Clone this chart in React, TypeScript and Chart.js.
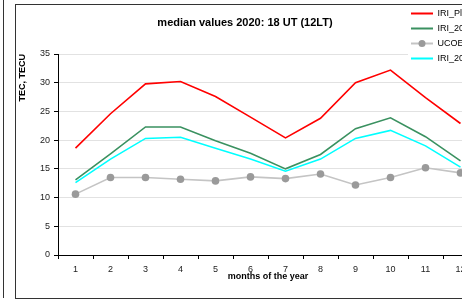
import React, { useEffect, useRef } from "react";
import { Chart, registerables } from "chart.js";

Chart.register(...registerables);

const months = ["1", "2", "3", "4", "5", "6", "7", "8", "9", "10", "11", "12"];
const iriPlas = [18.6, 24.6, 29.8, 30.2, 27.6, 24.0, 20.4, 23.8, 30.0, 32.2, 27.4, 22.9];
const iri2016 = [13.1, 17.6, 22.3, 22.3, 19.9, 17.7, 15.0, 17.5, 22.0, 23.9, 20.6, 16.4];
const ucoe = [10.6, 13.5, 13.5, 13.2, 12.9, 13.6, 13.3, 14.1, 12.2, 13.5, 15.2, 14.3];
const iri2012 = [12.6, 16.7, 20.3, 20.5, 18.6, 16.7, 14.6, 16.7, 20.3, 21.7, 19.0, 15.3];
const seriesNames = ["IRI_Plas2017", "IRI_2016", "UCOE", "IRI_2012"];
const titleText = "median values 2020: 18 UT (12LT)";
const yTitle = "TEC, TECU";
const xTitle = "months of the year";
const yMin = 0;
const yMax = 35;
const yStep = 5;

const FONT = "'Liberation Sans', Arial, sans-serif";

const titlePlugin = {
  id: "fixedTitle",
  afterDraw(chart: any) {
    const ctx = chart.ctx;
    ctx.save();
    ctx.font = `bold 11px ${FONT}`;
    ctx.fillStyle = "#000";
    ctx.textAlign = "center";
    ctx.textBaseline = "middle";
    ctx.fillText(titleText, 245, 23);
    ctx.restore();
  },
};

const legendPlugin = {
  id: "fixedLegend",
  afterDraw(chart: any) {
    const ctx = chart.ctx;
    ctx.save();
    ctx.fillStyle = "#fff";
    ctx.fillRect(408, 5, 140, 62);
    chart.data.datasets.forEach((ds: any, i: number) => {
      const y = 13.5 + i * 15;
      ctx.strokeStyle = ds.borderColor;
      ctx.lineWidth = 2;
      ctx.beginPath();
      ctx.moveTo(411, y);
      ctx.lineTo(433, y);
      ctx.stroke();
      if (ds.pointRadius > 0) {
        ctx.fillStyle = ds.pointBackgroundColor;
        ctx.beginPath();
        ctx.arc(422, y, 3.5, 0, Math.PI * 2);
        ctx.fill();
      }
      ctx.fillStyle = "#000";
      ctx.font = `9px ${FONT}`;
      ctx.textAlign = "left";
      ctx.textBaseline = "middle";
      ctx.fillText(ds.label, 437.5, y + 0.5);
    });
    ctx.restore();
  },
};

export default function App() {
  const canvasRef = useRef<HTMLCanvasElement | null>(null);

  useEffect(() => {
    if (!canvasRef.current) return;
    const mk = (label: string, data: number[], color: string, extra: any = {}) => ({
      label,
      data,
      borderColor: color,
      backgroundColor: color,
      borderWidth: 1.6,
      pointRadius: 0,
      tension: 0,
      ...extra,
    });
    const chart = new Chart(canvasRef.current, {
      type: "line",
      data: {
        labels: months,
        datasets: [
          mk(seriesNames[0], iriPlas, "#ff0000"),
          mk(seriesNames[1], iri2016, "#3a9160"),
          mk(seriesNames[2], ucoe, "#c4c4c4", {
            pointRadius: 3.8,
            pointBackgroundColor: "#9a9a9a",
            pointBorderColor: "#9a9a9a",
            pointBorderWidth: 0,
          }),
          mk(seriesNames[3], iri2012, "#00ffff"),
        ],
      },
      options: {
        responsive: false,
        animation: false,
        devicePixelRatio: 1,
        layout: { padding: { left: 0, top: 54, right: 42, bottom: 0 } },
        plugins: {
          legend: { display: false },
          title: { display: false },
          tooltip: { enabled: false },
        },
        scales: {
          x: {
            type: "category",
            offset: true,
            grid: {
              offset: true,
              drawOnChartArea: false,
              drawTicks: true,
              tickLength: 4,
              tickColor: "#000",
            },
            border: { color: "#000", width: 1 },
            ticks: {
              color: "#222",
              font: { family: FONT, size: 9 },
              padding: 5,
              maxRotation: 0,
              autoSkip: false,
            },
            title: {
              display: true,
              text: xTitle,
              color: "#000",
              font: { family: FONT, size: 9, weight: "bold" },
              padding: { top: 0, bottom: 19 },
            },
            afterFit(scale: any) {
              scale.height = 46;
            },
          },
          y: {
            min: yMin,
            max: yMax,
            ticks: {
              stepSize: yStep,
              color: "#222",
              font: { family: FONT, size: 9 },
              padding: 4,
            },
            grid: {
              color: "#e2e2e2",
              lineWidth: 1,
              drawTicks: true,
              tickLength: 4,
              tickColor: "#000",
            },
            border: { color: "#000", width: 1 },
            title: {
              display: true,
              text: yTitle,
              align: "end",
              color: "#000",
              font: { family: FONT, size: 9, weight: "bold" },
              padding: { top: 17, bottom: 0 },
            },
            afterFit(scale: any) {
              scale.width = 58;
            },
          },
        },
      },
      plugins: [titlePlugin, legendPlugin],
    } as any);
    return () => chart.destroy();
  }, []);

  return (
    <div
      style={{
        position: "fixed",
        left: 0,
        top: 0,
        width: 462,
        height: 301,
        overflow: "hidden",
        background: "#fff",
      }}
    >
      <div
        style={{
          position: "absolute",
          left: 3,
          top: 0,
          width: 1,
          height: 298,
          background: "#333",
        }}
      />
      <div
        style={{
          position: "absolute",
          left: 15,
          top: 4,
          width: 600,
          height: 295,
          border: "1px solid #333",
          boxSizing: "border-box",
        }}
      />
      <canvas
        ref={canvasRef}
        width={520}
        height={301}
        style={{ position: "absolute", left: 0, top: 0, width: 520, height: 301 }}
      />
    </div>
  );
}
